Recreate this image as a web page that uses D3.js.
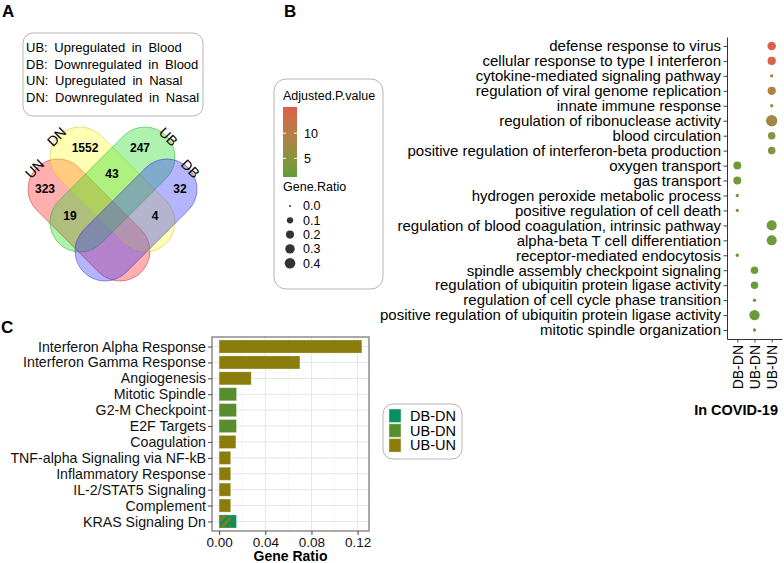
<!DOCTYPE html>
<html>
<head>
<meta charset="utf-8">
<script src="https://cdn.jsdelivr.net/npm/d3@7"></script>
<style>
body { margin: 0; background: #fff; }
text { font-family: "Liberation Sans", Arial, sans-serif; }
</style>
</head>
<body>
<svg id="fig" width="784" height="563"></svg>
<script>
// ---------- data ----------
// panel A
var vennSets = ["UN", "DN", "UB", "DB"];
var vennColors = ["#ff2020", "#ffff30", "#20d820", "#3030ff"];
var legendLines = ["UB: Upregulated in Blood", "DB: Downregulated in Blood",
                   "UN: Upregulated in Nasal", "DN: Downregulated in Nasal"];
var vennRegions = [["UN"], ["DN"], ["UB"], ["DB"], ["DN", "UB"], ["UN", "UB"], ["DN", "DB"]];
var vennCounts = [323, 1552, 247, 32, 43, 19, 4];

// panel B
var goTerms = ["defense response to virus", "cellular response to type I interferon",
  "cytokine-mediated signaling pathway", "regulation of viral genome replication",
  "innate immune response", "regulation of ribonuclease activity", "blood circulation",
  "positive regulation of interferon-beta production", "oxygen transport", "gas transport",
  "hydrogen peroxide metabolic process", "positive regulation of cell death",
  "regulation of blood coagulation, intrinsic pathway", "alpha-beta T cell differentiation",
  "receptor-mediated endocytosis", "spindle assembly checkpoint signaling",
  "regulation of ubiquitin protein ligase activity", "regulation of cell cycle phase transition",
  "positive regulation of ubiquitin protein ligase activity", "mitotic spindle organization"];
var goGroups = ["UB-UN", "UB-UN", "UB-UN", "UB-UN", "UB-UN", "UB-UN", "UB-UN", "UB-UN",
  "DB-DN", "DB-DN", "DB-DN", "DB-DN", "UB-UN", "UB-UN", "DB-DN",
  "UB-DN", "UB-DN", "UB-DN", "UB-DN", "UB-DN"];
var goRatios = [0.23, 0.21, 0.01, 0.21, 0.01, 0.47, 0.16, 0.17, 0.19, 0.19,
  0.01, 0.01, 0.35, 0.35, 0.01, 0.17, 0.16, 0.01, 0.38, 0.01];
var goPvals = [15.2, 14.6, 10, 9.6, 7, 7.6, 5.6, 4.2, 2.5, 2.5,
  1.8, 1.8, 2.6, 2.6, 1.5, 2.2, 2.0, 1.5, 2.0, 1.3];
var goCats = ["DB-DN", "UB-DN", "UB-UN"];
var sizeBreaks = [0, 0.1, 0.2, 0.3, 0.4];
var pvalBreaks = [5, 10];

// panel C
var hmTerms = ["Interferon Alpha Response", "Interferon Gamma Response", "Angiogenesis",
  "Mitotic Spindle", "G2-M Checkpoint", "E2F Targets", "Coagulation",
  "TNF-alpha Signaling via NF-kB", "Inflammatory Response", "IL-2/STAT5 Signaling",
  "Complement", "KRAS Signaling Dn"];
var hmBarTerms = hmTerms.concat(["KRAS Signaling Dn"]);
var hmBarGroups = ["UB-UN", "UB-UN", "UB-UN", "UB-DN", "UB-DN", "UB-DN", "UB-UN",
  "UB-UN", "UB-UN", "UB-UN", "UB-UN", "DB-DN", "UB-UN"];
var hmBarRatios = [0.1237, 0.07, 0.0278, 0.0151, 0.015, 0.015, 0.0145,
  0.01, 0.01, 0.01, 0.01, 0.015, 0.01];
var hmTicks = [0, 0.04, 0.08, 0.12];
var barColors = {"DB-DN": "#07915e", "UB-DN": "#578d2c", "UB-UN": "#8b7d0c"};

var svg = d3.select("#fig");
var defs = svg.append("defs");

function panelLetter(t, x, y) {
  svg.append("text").attr("x", x).attr("y", y).text(t)
    .style("font-size", "17px").style("font-weight", "bold");
}

// ---------- A: venn ----------
panelLetter("A", 2, 17);

svg.append("rect").attr("x", 23).attr("y", 33).attr("width", 180).attr("height", 83)
  .attr("rx", 10).attr("fill", "#fff").attr("stroke", "#b5b5b5");
svg.selectAll(".leg").data(legendLines).enter().append("text")
  .attr("x", 26).attr("y", function(d, i) { return 52 + i * 16.7; })
  .style("font-size", "13px").style("word-spacing", "3px")
  .text(function(d) { return d; });

var vr = 30;
var vennShapes = [
  {c1: [58, 189], c2: [120, 251]},
  {c1: [80, 157], c2: [145, 222]},
  {c1: [145, 157], c2: [80, 222]},
  {c1: [167, 189], c2: [105, 251]}
];

var venn = svg.append("g");
vennShapes.forEach(function(s, i) {
  var dx = s.c2[0] - s.c1[0], dy = s.c2[1] - s.c1[1];
  var L = Math.sqrt(dx * dx + dy * dy);
  var ang = Math.atan2(dy, dx) * 180 / Math.PI;
  var mx = (s.c1[0] + s.c2[0]) / 2, my = (s.c1[1] + s.c2[1]) / 2;
  venn.append("rect")
    .attr("x", -L / 2 - vr).attr("y", -vr).attr("width", L + 2 * vr).attr("height", 2 * vr)
    .attr("rx", vr)
    .attr("transform", "translate(" + mx + "," + my + ") rotate(" + ang + ")")
    .attr("fill", vennColors[i]).attr("fill-opacity", 0.36)
    .attr("stroke", d3.color(vennColors[i]).darker(0.8)).attr("stroke-opacity", 0.55)
    .attr("stroke-width", 0.8);
  // set name just beyond the upper end
  var ux = -dx / L, uy = -dy / L;
  var tx = s.c1[0] + ux * 33, ty = s.c1[1] + uy * 33 + 3;
  venn.append("text").attr("x", tx).attr("y", ty)
    .attr("transform", "rotate(" + (ang - 90) + "," + tx + "," + ty + ")")
    .attr("text-anchor", "middle").attr("dy", "0.35em")
    .style("font-size", "14px").text(vennSets[i]);
});

function inside(s, px, py) {
  var dx = s.c2[0] - s.c1[0], dy = s.c2[1] - s.c1[1];
  var t = ((px - s.c1[0]) * dx + (py - s.c1[1]) * dy) / (dx * dx + dy * dy);
  t = Math.max(0, Math.min(1, t));
  var qx = s.c1[0] + t * dx - px, qy = s.c1[1] + t * dy - py;
  return qx * qx + qy * qy <= vr * vr;
}
function maskAt(px, py) {
  var m = 0;
  vennShapes.forEach(function(s, i) { if (inside(s, px, py)) m |= 1 << i; });
  return m;
}
// grid of region masks
var gx0 = 10, gy0 = 110, gw = 210, gh = 185;
var grid = [];
for (var gy = 0; gy < gh; gy++) for (var gx = 0; gx < gw; gx++) grid.push(maskAt(gx0 + gx, gy0 + gy));
function maskGrid(x, y) {
  if (x < 0 || y < 0 || x >= gw || y >= gh) return -1;
  return grid[y * gw + x];
}
// place each count at the point deepest inside its region
vennRegions.forEach(function(reg, k) {
  var mask = 0;
  reg.forEach(function(n) { mask |= 1 << vennSets.indexOf(n); });
  var best = null, bestD = -1;
  for (var y = 0; y < gh; y += 1) {
    for (var x = 0; x < gw; x += 1) {
      if (grid[y * gw + x] !== mask) continue;
      var d = 1, ok = true;
      while (ok && d < 40) {
        for (var a = 0; a < 16; a++) {
          var th = a * Math.PI / 8;
          if (maskGrid(Math.round(x + d * Math.cos(th)), Math.round(y + d * Math.sin(th))) !== mask) { ok = false; break; }
        }
        if (ok) d++;
      }
      if (d > bestD) { bestD = d; best = [x, y]; }
    }
  }
  venn.append("text").attr("x", gx0 + best[0]).attr("y", gy0 + best[1]).attr("dy", "0.35em")
    .attr("text-anchor", "middle").style("font-size", "12px").style("font-weight", "bold")
    .text(vennCounts[k]);
});

// ---------- B: dot plot ----------
panelLetter("B", 284, 17);

var pMin = d3.min(goPvals), pMax = d3.max(goPvals);
var colorScale = d3.scaleLinear().domain([pMin, pMax]).range(["#5f9e3a", "#dc5e4b"])
  .interpolate(d3.interpolateLab);
var sizeScale = d3.scaleSqrt().domain([0, 0.4]).range([1, 5.3]);

var yB = d3.scalePoint().domain(goTerms).range([37, 339]).padding(0.6);
var xB = d3.scalePoint().domain(goCats).range([727, 782]).padding(0.6);

var axL = svg.append("g").attr("transform", "translate(727,0)")
  .call(d3.axisLeft(yB).tickSize(3.5).tickPadding(2.5).tickSizeOuter(0));
axL.selectAll("text").style("font-size", "15px").attr("fill", "#000");
axL.selectAll("line").attr("stroke", "#444");
axL.select(".domain").attr("stroke", "#333");

var axB = svg.append("g").attr("transform", "translate(0,339)")
  .call(d3.axisBottom(xB).tickSize(3.5).tickSizeOuter(0));
axB.selectAll("text").style("font-size", "14px").attr("fill", "#000")
  .attr("transform", "rotate(-90)").attr("text-anchor", "end")
  .attr("x", -6).attr("y", 0).attr("dy", "0.35em");
axB.selectAll("line").attr("stroke", "#444");
axB.select(".domain").attr("stroke", "#333");

svg.append("g").selectAll("circle").data(goTerms).enter().append("circle")
  .attr("cx", function(d, i) { return xB(goGroups[i]); })
  .attr("cy", function(d) { return yB(d); })
  .attr("r", function(d, i) { return sizeScale(goRatios[i]); })
  .attr("fill", function(d, i) { return colorScale(goPvals[i]); });

svg.append("text").attr("x", 778).attr("y", 415).attr("text-anchor", "end")
  .style("font-size", "14.5px").style("font-weight", "bold").text("In COVID-19");

// legend B
svg.append("rect").attr("x", 274).attr("y", 79).attr("width", 109).attr("height", 210)
  .attr("rx", 12).attr("fill", "#fff").attr("stroke", "#b5b5b5");
svg.append("text").attr("x", 283).attr("y", 100).style("font-size", "12.5px").text("Adjusted.P.value");

var grad = defs.append("linearGradient").attr("id", "pgrad")
  .attr("x1", 0).attr("y1", 1).attr("x2", 0).attr("y2", 0);
d3.range(0, 1.0001, 0.1).forEach(function(t) {
  grad.append("stop").attr("offset", t).attr("stop-color", colorScale(pMin + t * (pMax - pMin)));
});
var barY = d3.scaleLinear().domain([pMin, pMax]).range([177, 107]);
svg.append("rect").attr("x", 283).attr("y", 107).attr("width", 14).attr("height", 70)
  .attr("fill", "url(#pgrad)");
pvalBreaks.forEach(function(v) {
  svg.append("line").attr("x1", 283).attr("x2", 286).attr("y1", barY(v)).attr("y2", barY(v))
    .attr("stroke", "#fff");
  svg.append("line").attr("x1", 294).attr("x2", 297).attr("y1", barY(v)).attr("y2", barY(v))
    .attr("stroke", "#fff");
  svg.append("text").attr("x", 304).attr("y", barY(v)).attr("dy", "0.35em")
    .style("font-size", "12.5px").text(v);
});
svg.append("text").attr("x", 283).attr("y", 191).style("font-size", "12.5px").text("Gene.Ratio");
sizeBreaks.forEach(function(v, i) {
  var cy = 206 + i * 14.3;
  svg.append("circle").attr("cx", 290).attr("cy", cy).attr("r", sizeScale(v)).attr("fill", "#333");
  svg.append("text").attr("x", 303).attr("y", cy).attr("dy", "0.35em")
    .style("font-size", "12.5px").text(d3.format(".1f")(v));
});

// ---------- C: bar chart ----------
panelLetter("C", 1, 333);

var hmMax = d3.max(hmBarRatios);
var xC = d3.scaleLinear().domain([-0.05 * hmMax, hmMax * 1.05]).range([212, 369]);
var yC = d3.scalePoint().domain(hmTerms).range([337, 531]).padding(0.6);
var barH = yC.step() * 0.82;

var gC = svg.append("g");
gC.append("rect").attr("x", 212).attr("y", 337).attr("width", 157).attr("height", 194).attr("fill", "#fff");
d3.range(0.02, 0.13, 0.04).forEach(function(v) {
  gC.append("line").attr("x1", xC(v)).attr("x2", xC(v)).attr("y1", 337).attr("y2", 531)
    .attr("stroke", "#f0f0f0").attr("stroke-width", 0.6);
});
hmTicks.forEach(function(v) {
  gC.append("line").attr("x1", xC(v)).attr("x2", xC(v)).attr("y1", 337).attr("y2", 531)
    .attr("stroke", "#e6e6e6").attr("stroke-width", 1);
});
hmTerms.forEach(function(t) {
  gC.append("line").attr("x1", 212).attr("x2", 369).attr("y1", yC(t)).attr("y2", yC(t))
    .attr("stroke", "#e6e6e6").attr("stroke-width", 1);
});

Object.keys(barColors).forEach(function(k) {
  var p = defs.append("pattern").attr("id", "hatch-" + k).attr("patternUnits", "userSpaceOnUse")
    .attr("width", 6).attr("height", 6).attr("patternTransform", "rotate(45)");
  p.append("rect").attr("width", 3).attr("height", 6).attr("fill", barColors[k]);
});

// bars: within one term the largest is solid, smaller overlapping ones are hatched
var bars = hmBarTerms.map(function(t, i) { return {term: t, group: hmBarGroups[i], ratio: hmBarRatios[i]}; });
var seen = {};
bars.sort(function(a, b) { return b.ratio - a.ratio; }).forEach(function(b) {
  b.over = !!seen[b.term];
  seen[b.term] = true;
});
bars.sort(function(a, b) { return a.over - b.over; });
gC.selectAll(".bar").data(bars).enter().append("rect")
  .attr("x", xC(0))
  .attr("y", function(d) { return yC(d.term) - barH / 2; })
  .attr("width", function(d) { return xC(d.ratio) - xC(0); })
  .attr("height", barH)
  .attr("fill", function(d) { return d.over ? "url(#hatch-" + d.group + ")" : barColors[d.group]; })
  .attr("stroke", function(d) { return d.over ? "none" : "#fff"; })
  .attr("stroke-opacity", 0.3).attr("stroke-width", 0.8);

gC.append("rect").attr("x", 212).attr("y", 337).attr("width", 157).attr("height", 194)
  .attr("fill", "none").attr("stroke", "#707070").attr("stroke-width", 1.2);

var axCL = svg.append("g").attr("transform", "translate(212,0)")
  .call(d3.axisLeft(yC).tickSize(4).tickPadding(2).tickSizeOuter(0));
axCL.select(".domain").remove();
axCL.selectAll("text").style("font-size", "14.2px").attr("fill", "#111");
axCL.selectAll("line").attr("stroke", "#444");

var axCB = svg.append("g").attr("transform", "translate(0,531)")
  .call(d3.axisBottom(xC).tickValues(hmTicks).tickFormat(d3.format(".2f")).tickSize(4).tickPadding(2).tickSizeOuter(0));
axCB.select(".domain").remove();
axCB.selectAll("text").style("font-size", "13.5px").attr("fill", "#111");
axCB.selectAll("line").attr("stroke", "#444");

svg.append("text").attr("x", 290.5).attr("y", 561).attr("text-anchor", "middle")
  .style("font-size", "14px").style("font-weight", "bold").text("Gene Ratio");

// legend C
svg.append("rect").attr("x", 383).attr("y", 404).attr("width", 79).attr("height", 55)
  .attr("rx", 10).attr("fill", "#fff").attr("stroke", "#b5b5b5");
goCats.forEach(function(g, i) {
  var y0 = 409 + i * 14.8;
  svg.append("rect").attr("x", 389).attr("y", y0).attr("width", 12).attr("height", 13.5)
    .attr("fill", barColors[g]).attr("stroke", "#fff").attr("stroke-opacity", 0.4);
  svg.append("text").attr("x", 410).attr("y", y0 + 6.8).attr("dy", "0.35em")
    .style("font-size", "14.5px").text(g);
});
</script>
</body>
</html>
